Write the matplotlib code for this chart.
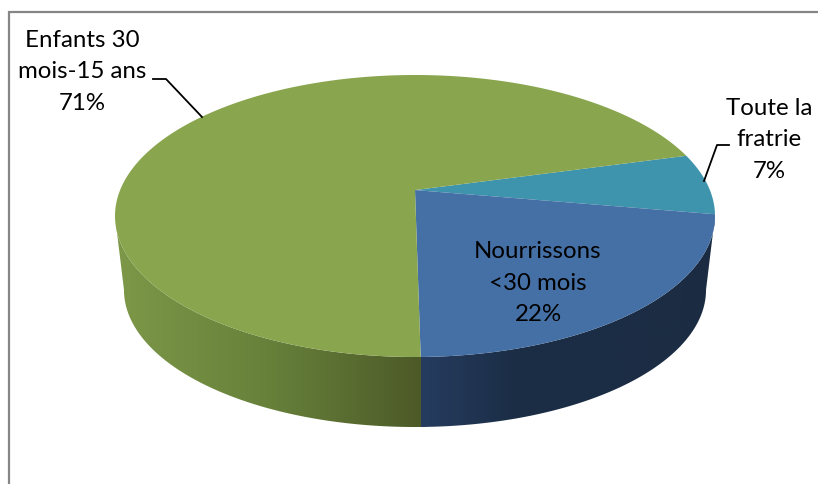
import numpy as np
import matplotlib
matplotlib.use('Agg')
import matplotlib.pyplot as plt
from matplotlib.patches import Polygon
from matplotlib.colors import LinearSegmentedColormap

# Parts of the pie, clockwise from the start angle
labels = ['Toute la\nfratrie', 'Nourrissons\n<30 mois', 'Enfants 30\nmois-15 ans']
values = [7, 22, 71]
top_colors = ['#3f94ad', '#4570a5', '#89a54e']

start_angle = 15.3
tilt = 0.184  # how far the centre sits above the middle of the ellipse


def project(angle):
    # circle point -> unit disc with the centre pushed back (perspective)
    x = np.cos(np.radians(angle))
    y = np.sin(np.radians(angle))
    yp = (y + tilt) / (1 + tilt * y)
    xp = x * np.sqrt(1 - tilt**2) / (1 + tilt * y)
    return xp, yp


def rim(xp, yp, cx, cy, rx, ry):
    return cx + rx * xp, cy - ry * yp


def top_rim(xp, yp):
    return rim(xp, yp, 415, 216, 300, 141)


def bottom_rim(xp, yp):
    return rim(xp, yp, 415, 290, 291, 137)


fig = plt.figure(figsize=(8.18, 4.84), dpi=100, facecolor='white')
ax = fig.add_axes([0, 0, 1, 1])
ax.set_xlim(0, 818)
ax.set_ylim(484, 0)
ax.axis('off')
plt.rcParams['font.family'] = ['Lato', 'DejaVu Sans']

# chart frame, only top and left show
ax.plot([9, 9, 818], [484, 12, 12], color='#868686', lw=1.6, solid_joinstyle='miter')

# boundaries of the slices in true angles
edges = start_angle - np.cumsum([0] + values) * 3.6

# side wall: gradients clipped to the band between both rims
bx, by = project(edges[2])
split = np.degrees(np.arctan2(by, bx)) % 360


def wall(phi0, phi1, colors, x0, x1):
    phi = np.radians(np.linspace(phi0, phi1, 200))
    xp, yp = np.cos(phi), np.sin(phi)
    tx, ty = top_rim(xp, yp)
    bx_, by_ = bottom_rim(xp, yp)
    pts = np.column_stack([np.r_[tx, bx_[::-1]], np.r_[ty, by_[::-1]]])
    poly = Polygon(pts, closed=True, fc='none', ec='none', transform=ax.transData)
    ax.add_patch(poly)
    cmap = LinearSegmentedColormap.from_list('w', colors)
    im = ax.imshow(np.linspace(0, 1, 256)[None, :], cmap=cmap, aspect='auto',
                   extent=[x0, x1, 440, 200], zorder=1)
    im.set_clip_path(poly)


# green runs a little under the blue so no gap shows at the join
wall(180, split + 1, [(0, '#7d9848'), (0.5, '#66803a'), (0.98, '#4d5a28'), (1, '#4d5a28')], 116, 428)
wall(split, 360, ['#263c5f', '#1b2d45', '#1b2d45', '#1b2c42'], 421, 715)
ax.set_xlim(0, 818)
ax.set_ylim(484, 0)

# top face
apex = top_rim(0, tilt)
for i in range(len(values)):
    ang = np.linspace(edges[i], edges[i + 1], 300)
    xr, yr = top_rim(*project(ang))
    pts = np.column_stack([np.r_[apex[0], xr], np.r_[apex[1], yr]])
    ax.add_patch(Polygon(pts, closed=True, fc=top_colors[i], ec='none', zorder=2))

# labels with their leader lines
text_pos = [(769, 140), (538, 283), (82, 72)]
for lab, v, (tx, ty) in zip(labels, values, text_pos):
    ax.text(tx, ty, f'{lab}\n{v}%', ha='center', va='center', fontsize=17.3,
            color='black', linespacing=1.62, zorder=4)

ax.plot([153, 166, 202], [79, 79, 117], color='black', lw=1.3, zorder=3)
ax.plot([729, 717, 704], [145, 145, 181], color='black', lw=1.3, zorder=3)

fig.savefig('out.png', dpi=100)
